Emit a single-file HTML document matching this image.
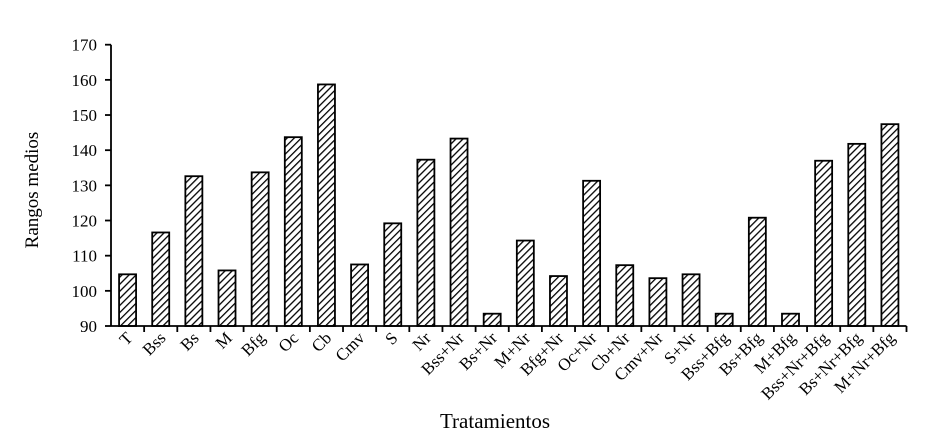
<!DOCTYPE html>
<html><head><meta charset="utf-8"><style>
body{margin:0;background:#fff}
svg{display:block;font-family:"Liberation Serif",serif}
</style></head><body>
<svg id="chart" width="932" height="447" viewBox="0 0 932 447" xmlns="http://www.w3.org/2000/svg">
<defs><pattern id="hatch" patternUnits="userSpaceOnUse" width="5" height="5" patternTransform="rotate(45)">
<rect width="5" height="5" fill="#fff"/><line x1="0" y1="0" x2="0" y2="5" stroke="#000" stroke-width="2.6"/></pattern></defs>
<g id="plot"></g>
<text x="0" y="0" font-size="19" text-anchor="middle" transform="translate(38,190) rotate(-90)">Rangos medios</text>
<text x="495" y="428" font-size="21" text-anchor="middle">Tratamientos</text>
</svg>
<script>
const categories=["T","Bss","Bs","M","Bfg","Oc","Cb","Cmv","S","Nr","Bss+Nr","Bs+Nr","M+Nr","Bfg+Nr","Oc+Nr","Cb+Nr","Cmv+Nr","S+Nr","Bss+Bfg","Bs+Bfg","M+Bfg","Bss+Nr+Bfg","Bs+Nr+Bfg","M+Nr+Bfg"];
const values=[104.7,116.6,132.6,105.8,133.7,143.7,158.7,107.5,119.2,137.3,143.3,93.5,114.3,104.2,131.3,107.3,103.6,104.7,93.5,120.8,93.5,137.0,141.8,147.4];
const yTicks=[90,100,110,120,130,140,150,160,170];
const NS="http://www.w3.org/2000/svg";
const g=document.getElementById("plot");
const x0=111,x1=906.5,yTop=44.7,yBot=326,yMin=90,yMax=170;
const band=(x1-x0)/categories.length;
const yS=v=>yBot-(v-yMin)/(yMax-yMin)*(yBot-yTop);
const xS=i=>x0+band*(i+0.5);
function mk(t,a){const e=document.createElementNS(NS,t);for(const k in a)e.setAttribute(k,a[k]);g.appendChild(e);return e;}
categories.forEach((c,i)=>{
  const r=mk("rect",{x:xS(i)-8.5,y:yS(values[i]),width:17,height:yBot-yS(values[i]),fill:"url(#hatch)",stroke:"#000","stroke-width":1.8});
  
  
  const tk=mk("line",{x1:x0+band*(i+1),x2:x0+band*(i+1),y1:yBot,y2:yBot+6,stroke:"#000","stroke-width":1.8});
  
  
  const t=mk("text",{x:0,y:0,"font-size":17,"text-anchor":"end",transform:`translate(${xS(i)+6},${yBot+13}) rotate(-45)`});
  t.textContent=c;
  
  
});
yTicks.forEach(v=>{
  const l=mk("line",{x1:x0-6,x2:x0,y1:yS(v),y2:yS(v),stroke:"#000","stroke-width":1.8});
  
  
  const t=mk("text",{x:x0-14,y:yS(v)+6,"font-size":17,"text-anchor":"end"});
  t.textContent=v;
  
  
});
const ya=mk("line",{x1:x0,x2:x0,y1:yTop,y2:yBot,stroke:"#000","stroke-width":1.8});


const xa=mk("line",{x1:x0,x2:x1,y1:yBot,y2:yBot,stroke:"#000","stroke-width":1.8});


</script>
</body></html>
